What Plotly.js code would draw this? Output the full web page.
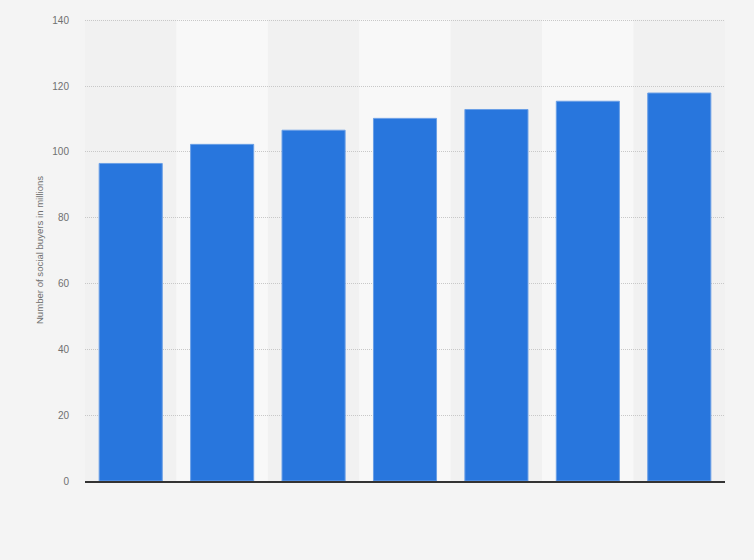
<!DOCTYPE html>
<html>
<head>
<meta charset="utf-8">
<script src="https://cdn.plot.ly/plotly-3.0.1.min.js"></script>
<style>
  html, body { margin: 0; padding: 0; background: #f4f4f4; }
  #plot { width: 754px; height: 560px; }
</style>
</head>
<body>
<div id="plot"></div>
<script>
// social buyers, millions (x labels are not shown in the source)
const years = ['2016', '2017', '2018', '2019', '2020', '2021', '2022'];
const buyers = [96.5, 102.3, 106.6, 110.2, 112.9, 115.4, 117.9];

const BAR_BLUE = '#2876dd';

// alternating light column bands behind every second category
const bands = years.map((y, i) => ({
  type: 'rect',
  xref: 'x',
  yref: 'paper',
  x0: i - 0.5,
  x1: i + 0.5,
  y0: 0,
  y1: 0.999,
  layer: 'below',
  line: { width: 0 },
  fillcolor: i % 2 === 1 ? '#f8f8f8' : '#f1f1f1',
}));

const data = [
  {
    x: years,
    y: buyers,
    type: 'bar',
    marker: { color: BAR_BLUE, line: { color: '#6a9fe6', width: 1 } },
    hoverinfo: 'y',
  },
];

const layout = {
  width: 754,
  height: 560,
  paper_bgcolor: '#f4f4f4',
  plot_bgcolor: 'rgba(0,0,0,0)',
  font: { family: 'Liberation Sans, Arial, sans-serif', size: 10, color: '#666' },
  margin: { l: 85, r: 29, t: 19, b: 79 },
  bargap: 0.31,
  showlegend: false,
  shapes: bands,
  xaxis: {
    type: 'category',
    showticklabels: false,
    showgrid: false,
    zeroline: false,
    showline: true,
    linecolor: '#333',
    linewidth: 1.5,
    ticks: '',
  },
  yaxis: {
    range: [0, 140.4],
    tick0: 0,
    dtick: 20,
    showgrid: true,
    gridcolor: '#c8c8c8',
    griddash: '1px,1px',
    gridwidth: 1,
    zeroline: false,
    ticks: '',
    ticklabelstandoff: 15,
    tickfont: { size: 10, color: '#707070' },
    title: {
      text: 'Number of social buyers in millions',
      font: { size: 9.6, color: '#707070' },
      standoff: 6,
    },
  },
};

Plotly.newPlot('plot', data, layout, { displayModeBar: false, staticPlot: true });
</script>
</body>
</html>
